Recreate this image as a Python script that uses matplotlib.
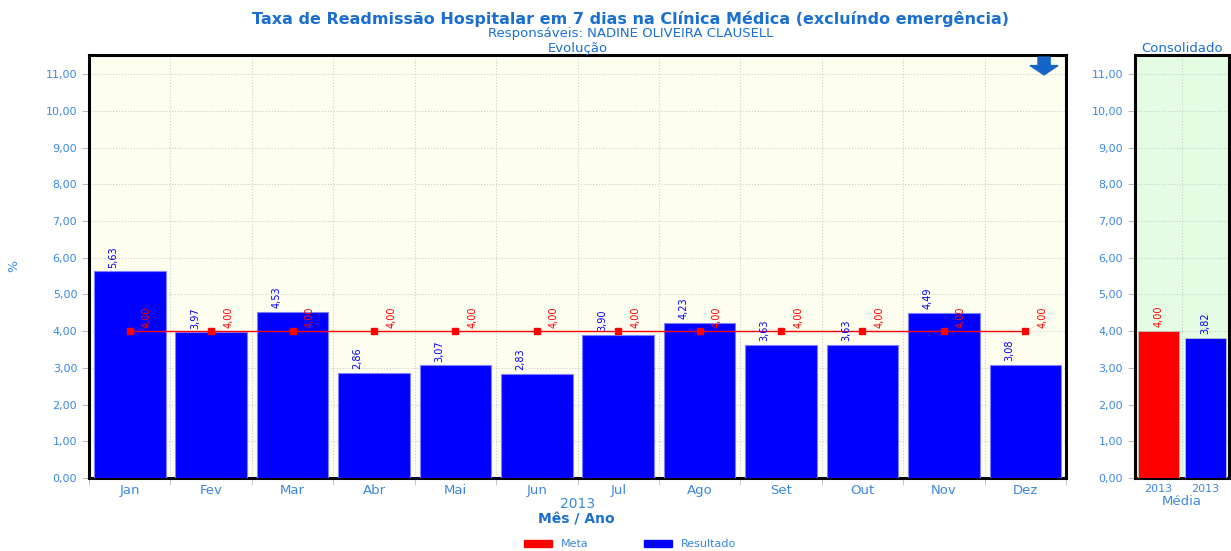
import numpy as np
import matplotlib
matplotlib.use('Agg')
import matplotlib.pyplot as plt
from matplotlib.patches import Patch, Polygon

# data
meses = ['Jan', 'Fev', 'Mar', 'Abr', 'Mai', 'Jun', 'Jul', 'Ago', 'Set', 'Out', 'Nov', 'Dez']
resultado = [5.63, 3.97, 4.53, 2.86, 3.07, 2.83, 3.90, 4.23, 3.63, 3.63, 4.49, 3.08]
meta = [4.00] * 12
consol_labels = ['2013', '2013']
consol_vals = [4.00, 3.82]   # Meta, Resultado (média)
consol_cols = ['#ff0000', '#0000ff']

azul_txt = '#1a6fd1'
azul_tick = '#3a88de'

def fmt(v):
    return ('%.2f' % v).replace('.', ',')

fig = plt.figure(figsize=(12.31, 5.51), dpi=100)
ax1 = fig.add_axes([0.0723, 0.1325, 0.7937, 0.7677])
ax2 = fig.add_axes([0.922, 0.1325, 0.0764, 0.7677])

x = np.arange(len(meses))
ymax = 11.52
yt = np.arange(0, 12)

# --- main panel
ax1.set_facecolor('#fefef0')
ax1.bar(x, resultado, width=0.88, color='#0000ff', edgecolor='#8080ff', linewidth=0.8, zorder=3)
ax1.plot(x, meta, color='#ff0000', lw=1, marker='s', ms=4, zorder=4)
for i, v in enumerate(resultado):
    ax1.text(i - 0.2, v + 0.1, fmt(v), rotation=90, ha='center', va='bottom',
             color='#0000ff', fontsize=7, zorder=5)
for i, v in enumerate(meta):
    ax1.text(i + 0.21, v + 0.08, fmt(v), rotation=90, ha='center', va='bottom',
             color='#ff0000', fontsize=7, zorder=5)
ax1.set_xlim(-0.5, len(meses) - 0.5)
ax1.set_ylim(0, ymax)
ax1.set_yticks(yt)
ax1.set_yticklabels([fmt(v) for v in yt])
ax1.set_xticks(x)
ax1.set_xticklabels(meses)
ax1.set_xticks(np.arange(-0.5, len(meses)), minor=True)
ax1.tick_params(axis='x', which='major', length=0, pad=4, labelsize=9.5, labelcolor=azul_tick)
ax1.tick_params(axis='x', which='minor', length=5, color='#bbbbbb')
ax1.tick_params(axis='y', length=5, color='#bbbbbb', labelsize=8, labelcolor=azul_tick)
ax1.grid(axis='y', which='major', ls=':', color='#cccccc', lw=0.8, zorder=0)
ax1.grid(axis='x', which='minor', ls=':', color='#cccccc', lw=0.8, zorder=0)
for s in ax1.spines.values():
    s.set_linewidth(2.2)
    s.set_color('black')
ax1.set_ylabel('%', color=azul_tick, fontsize=9, labelpad=18)
ax1.set_xlabel('2013', color=azul_tick, fontsize=10, labelpad=0)
ax1.set_title('Evolução', color=azul_txt, fontsize=9.5, pad=1)

# download arrow icon (axes fraction coords)
ax_, sw, hw, yt0, yh, ytip = 0.9775, 0.0062, 0.0143, 0.995, 0.975, 0.953
arrow = Polygon([(ax_ - sw, yt0), (ax_ + sw, yt0), (ax_ + sw, yh), (ax_ + hw, yh),
                 (ax_, ytip), (ax_ - hw, yh), (ax_ - sw, yh)], closed=True,
                transform=ax1.transAxes, color='#1565c8', zorder=6)
ax1.add_patch(arrow)

# --- consolidated panel
xc = np.arange(len(consol_vals))
ax2.set_facecolor('#e4fce4')
ax2.bar(xc, consol_vals, width=0.86, color=consol_cols, edgecolor='#c0c0c0', linewidth=0.6, zorder=3)
for i, v in enumerate(consol_vals):
    ax2.text(i, v + 0.1, fmt(v), rotation=90, ha='center', va='bottom',
             color=consol_cols[i], fontsize=7, zorder=5)
ax2.set_xlim(-0.5, 1.5)
ax2.set_ylim(0, ymax)
ax2.set_yticks(yt)
ax2.set_yticklabels([fmt(v) for v in yt])
ax2.set_xticks(xc)
ax2.set_xticklabels(consol_labels)
ax2.tick_params(axis='x', length=0, pad=4, labelsize=8, labelcolor=azul_tick)
ax2.tick_params(axis='y', length=5, color='#bbbbbb', labelsize=8, labelcolor=azul_tick)
ax2.grid(axis='y', ls=':', color='#cccccc', lw=0.8, zorder=0)
ax2.set_xticks([0.5], minor=True)
ax2.tick_params(axis='x', which='minor', length=0)
ax2.grid(axis='x', which='minor', ls=':', color='#cccccc', lw=0.8, zorder=0)
for s in ax2.spines.values():
    s.set_linewidth(2.2)
    s.set_color('black')
ax2.set_xlabel('Média', color=azul_tick, fontsize=9.5, labelpad=1)
ax2.set_title('Consolidado', color=azul_txt, fontsize=9.5, pad=1)

# --- titles
fig.text(0.512, 0.966, 'Taxa de Readmissão Hospitalar em 7 dias na Clínica Médica (excluíndo emergência)',
         ha='center', va='center', color=azul_txt, fontsize=11.5, fontweight='bold')
fig.text(0.512, 0.939, 'Responsáveis: NADINE OLIVEIRA CLAUSELL',
         ha='center', va='center', color=azul_txt, fontsize=9.5)
fig.text(0.468, 0.058, 'Mês / Ano', ha='center', va='center', color=azul_txt,
         fontsize=10, fontweight='bold')

handles = [Patch(color='#ff0000', label='Meta'), Patch(color='#0000ff', label='Resultado')]
leg = fig.legend(handles=handles, loc='center', bbox_to_anchor=(0.512, 0.012), ncol=2,
                 frameon=False, fontsize=8, handlelength=2.5, handleheight=0.7,
                 columnspacing=5)
for t in leg.get_texts():
    t.set_color(azul_tick)

fig.savefig('out.png', dpi=100)
